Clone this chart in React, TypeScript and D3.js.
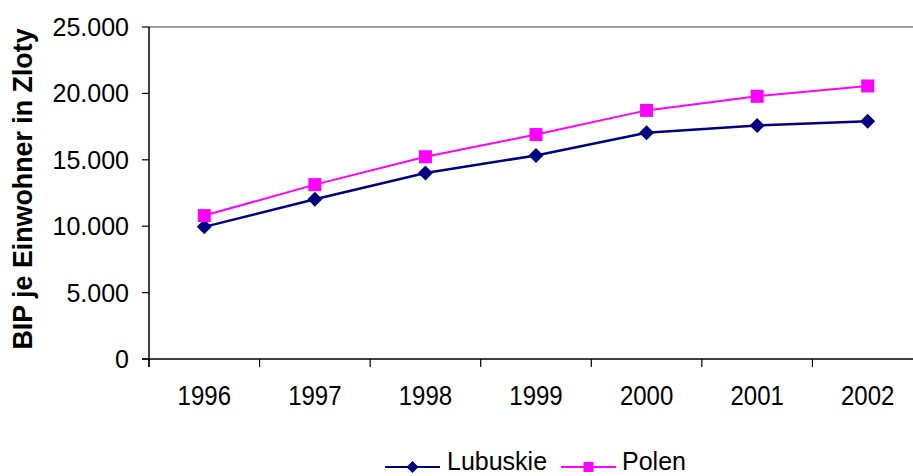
import React from "react";
import * as d3 from "d3";

const years = ["1996", "1997", "1998", "1999", "2000", "2001", "2002"];
const lubuskie = [9950, 12030, 14000, 15330, 17040, 17580, 17900];
const polen = [10800, 13130, 15230, 16900, 18720, 19780, 20560];
const yTicks = [0, 5000, 10000, 15000, 20000, 25000];
const seriesNames = ["Lubuskie", "Polen"];
const seriesColors = ["#000080", "#FF00FF"];

const W = 913;
const H = 476;
const left = 149;
const right = 923;
const top = 27;
const bottom = 359;
const FONT = "Arial, 'Liberation Sans', sans-serif";

const fmt = (v: number) => (v === 0 ? "0" : d3.format(",")(v).replace(/,/g, "."));

export default function App() {
  const x = d3.scaleBand<string>().domain(years).range([left, right]).padding(0);
  const y = d3.scaleLinear().domain([0, 25000]).range([bottom, top]);
  const cx = (yr: string) => (x(yr) as number) + x.bandwidth() / 2;
  const line = d3
    .line<number>()
    .x((_, i) => cx(years[i]))
    .y((d) => y(d));
  const diamond = (px: number, py: number, r: number) =>
    `M${px},${py - r}L${px + r},${py}L${px},${py + r}L${px - r},${py}Z`;

  const legendY = 467;
  const legendItems = [
    { x0: 385, x1: 440, tx: 447 },
    { x0: 561, x1: 616, tx: 622 },
  ];

  return (
    <svg
      width={W}
      height={H}
      style={{ position: "absolute", left: 0, top: 0, background: "#fff" }}
      fontFamily={FONT}
    >
      {/* top border */}
      <line x1={left} x2={W} y1={top} y2={top} stroke="#808080" strokeWidth={1.5} />
      {/* y axis */}
      <line x1={left} x2={left} y1={top} y2={bottom + 8} stroke="#000" strokeWidth={1.5} />
      {yTicks.map((t) => (
        <g key={t}>
          <line x1={left - 7} x2={left} y1={y(t)} y2={y(t)} stroke="#000" strokeWidth={1.2} />
          <text
            transform={`translate(129,${y(t) + 9}) scale(1,1.05)`}
            textAnchor="end"
            fontSize={25}
            fill="#000"
          >
            {fmt(t)}
          </text>
        </g>
      ))}
      {/* x axis */}
      <line x1={left - 7} x2={W} y1={bottom} y2={bottom} stroke="#000" strokeWidth={1.5} />
      {years.map((yr) => (
        <g key={yr}>
          <line x1={x(yr) as number} x2={x(yr) as number} y1={bottom} y2={bottom + 8} stroke="#000" strokeWidth={1.2} />
          <text
            transform={`translate(${cx(yr)},405) scale(1,1.12)`}
            textAnchor="middle"
            fontSize={24}
            fill="#000"
          >
            {yr}
          </text>
        </g>
      ))}
      {/* y title */}
      <text
        transform={`translate(32,189) rotate(-90)`}
        textAnchor="middle"
        fontSize={26.8}
        fontWeight="bold"
        fill="#000"
      >
        BIP je Einwohner in Zloty
      </text>
      {/* series */}
      <path d={line(lubuskie) || ""} fill="none" stroke={seriesColors[0]} strokeWidth={2.5} />
      <path d={line(polen) || ""} fill="none" stroke={seriesColors[1]} strokeWidth={2} />
      {lubuskie.map((v, i) => (
        <path key={"l" + i} d={diamond(cx(years[i]), y(v), 7.5)} fill={seriesColors[0]} />
      ))}
      {polen.map((v, i) => (
        <rect key={"p" + i} x={cx(years[i]) - 6.5} y={y(v) - 6.5} width={13} height={13} fill={seriesColors[1]} />
      ))}
      {/* legend */}
      {legendItems.map((it, i) => {
        const mx = (it.x0 + it.x1) / 2;
        return (
          <g key={i}>
            <line x1={it.x0} x2={it.x1} y1={legendY} y2={legendY} stroke={seriesColors[i]} strokeWidth={2} />
            {i === 0 ? (
              <path d={diamond(mx, legendY, 6)} fill={seriesColors[0]} />
            ) : (
              <rect x={mx - 5} y={legendY - 5} width={10} height={10} fill={seriesColors[1]} />
            )}
            <text x={it.tx} y={469.5} fontSize={25} fill="#000">
              {seriesNames[i]}
            </text>
          </g>
        );
      })}
    </svg>
  );
}
